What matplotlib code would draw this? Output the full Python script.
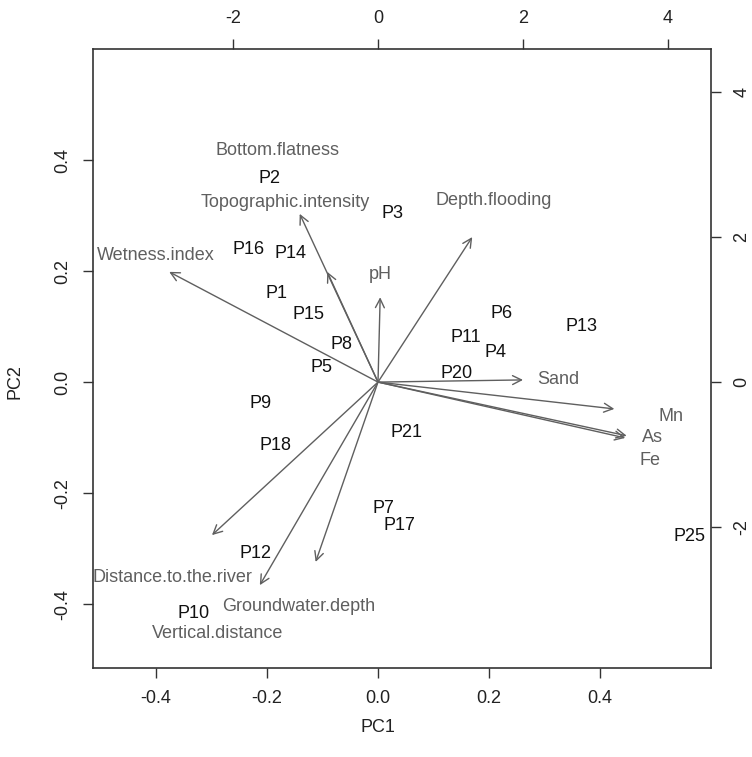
import matplotlib
matplotlib.use("Agg")
from matplotlib import pyplot as plt
import numpy as np

plt.rcParams['font.family'] = ['Liberation Sans', 'DejaVu Sans']

# ===================== Scores (bottom / left axes) =====================
sites = ["P1", "P2", "P3", "P4", "P5", "P6", "P7", "P8", "P9", "P10", "P11",
         "P12", "P13", "P14", "P15", "P16", "P17", "P18", "P20", "P21", "P25"]
pc1 = [-0.182, -0.196, 0.027, 0.211, -0.101, 0.222, 0.009, -0.065, -0.211, -0.333, 0.159,
       -0.221, 0.366, -0.157, -0.126, -0.234, 0.038, -0.184, 0.142, 0.052, 0.562]
pc2 = [0.159, 0.366, 0.303, 0.054, 0.027, 0.123, -0.227, 0.067, -0.038, -0.416, 0.081,
       -0.308, 0.101, 0.231, 0.121, 0.238, -0.259, -0.114, 0.016, -0.090, -0.279]

# ===================== Loadings (top / right axes) =====================
variables = ["Wetness.index", "Topographic.intensity", "Bottom.flatness", "pH",
             "Depth.flooding", "Sand", "Mn", "As", "Fe",
             "Distance.to.the.river", "Vertical.distance", "Groundwater.depth"]
load1 = [-2.88, -1.08, -0.70, 0.03, 1.30, 2.00, 3.26, 3.43, 3.41, -2.29, -1.63, -0.86]
load2 = [1.52, 2.32, 1.52, 1.17, 2.00, 0.03, -0.37, -0.74, -0.77, -2.11, -2.80, -2.48]
# where the variable names were written
lab1 = [-3.06, -1.28, -1.38, 0.03, 1.60, 2.48, 4.04, 3.79, 3.75, -2.83, -2.21, -1.10]
lab2 = [1.75, 2.48, 3.19, 1.48, 2.51, 0.03, -0.48, -0.76, -1.08, -2.69, -3.46, -3.09]

score_ticks = [-0.4, -0.2, 0.0, 0.2, 0.4]
load_ticks = [-2, 0, 2, 4]

W, H = 752, 757
fig = plt.figure(figsize=(W / 100, H / 100), dpi=100)
rect = [93 / W, (H - 668) / H, 618 / W, 619 / H]

fs = 13
gray = "#5f5f5f"
frame = "#333333"

ax = fig.add_axes(rect)
ax.set_xlim(-0.5135, 0.6)
ax.set_ylim(-0.515, 0.6)
ax.set_xticks(score_ticks)
ax.set_yticks(score_ticks)
ax.set_xticklabels([f"{t:.1f}" for t in score_ticks])
ax.set_yticklabels([f"{t:.1f}" for t in score_ticks], rotation=90, va="center")
ax.tick_params(length=7, width=1, color=frame, labelsize=fs, pad=9, labelcolor="#222222")
for s in ax.spines.values():
    s.set_color(frame)
    s.set_linewidth(1.2)
ax.set_xlabel("PC1", fontsize=fs, color="#222222", va="center")
ax.set_ylabel("PC2", fontsize=fs, color="#222222", va="center")
ax.xaxis.set_label_coords((378 - 93) / 618, (668 - 727) / 619)
ax.yaxis.set_label_coords((15 - 93) / 618, (668 - 382) / 619)

for name, x, y in zip(sites, pc1, pc2):
    ax.text(x, y, name, fontsize=fs, ha="center", va="center", color="#111111")

# second set of axes for the variable arrows
k = 555 / 72.5
ax2 = fig.add_axes(rect, frameon=False)
ax2.set_xlim(-0.5135 * k, 0.6 * k)
ax2.set_ylim(-0.515 * k, 0.6 * k)
ax2.xaxis.tick_top()
ax2.yaxis.tick_right()
ax2.set_xticks(load_ticks)
ax2.set_yticks(load_ticks)
ax2.set_xticklabels([str(t) for t in load_ticks])
ax2.set_yticklabels([str(t) for t in load_ticks], rotation=90, va="center")
ax2.tick_params(length=7, width=1, color=frame, labelsize=fs, pad=9, labelcolor="#222222")

for name, x, y, lx, ly in zip(variables, load1, load2, lab1, lab2):
    ax2.annotate("", xy=(x, y), xytext=(0, 0),
                 arrowprops=dict(arrowstyle="->", color=gray, lw=1.0,
                                 mutation_scale=16, shrinkA=0, shrinkB=0))
    ax2.text(lx, ly, name, fontsize=fs, ha="center", va="center", color=gray)

fig.savefig("out.png", dpi=100)
